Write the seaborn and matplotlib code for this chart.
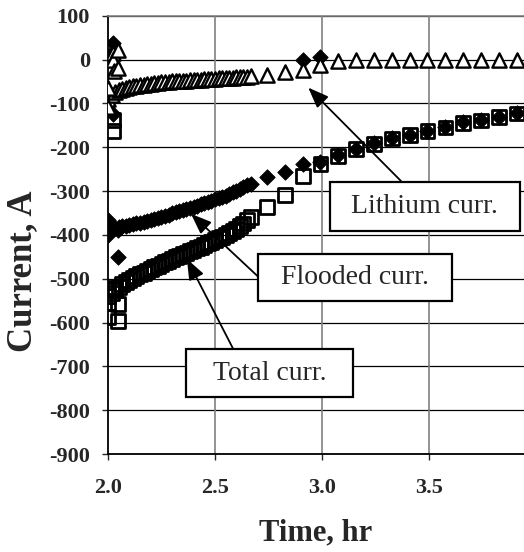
import matplotlib
matplotlib.use("Agg")
import matplotlib.pyplot as plt
from matplotlib.patches import Rectangle
import seaborn as sns
import pandas as pd

# ---------------- data ----------------
# dense logging (1-minute samples) from 2.0 h to ~2.67 h
time_dense = [2.000, 2.017, 2.033, 2.050, 2.067, 2.083, 2.100, 2.117, 2.133, 2.150,
              2.167, 2.183, 2.200, 2.217, 2.233, 2.250, 2.267, 2.283, 2.300, 2.317,
              2.333, 2.350, 2.367, 2.383, 2.400, 2.417, 2.433, 2.450, 2.467, 2.483,
              2.500, 2.517, 2.533, 2.550, 2.567, 2.583, 2.600, 2.617, 2.633, 2.650, 2.667]
lithium_dense = [-90, -80, -74, -70, -67, -65, -63, -61, -60, -58,
                 -57, -56, -55, -54, -53, -52, -52, -51, -50, -50,
                 -49, -48, -48, -47, -47, -46, -46, -45, -45, -44,
                 -44, -43, -43, -42, -42, -41, -40, -40, -39, -39, -38]
flooded_dense = [-378, -383, -384, -382, -380, -379, -377, -376, -374, -372,
                 -370, -368, -366, -364, -361, -359, -356, -354, -351, -348,
                 -346, -343, -341, -338, -336, -333, -330, -327, -324, -322,
                 -319, -316, -314, -311, -307, -303, -299, -295, -291, -287, -283]
total_dense = [-540, -532, -525, -518, -512, -507, -502, -498, -494, -490,
               -486, -482, -478, -474, -470, -466, -462, -459, -455, -451,
               -448, -444, -441, -437, -434, -430, -427, -423, -419, -416,
               -412, -408, -404, -400, -396, -391, -386, -380, -374, -367, -360]

# start-up transient readings
time_spike = [2.000, 2.000, 2.023, 2.023, 2.030, 2.047, 2.047]
lithium_spike = [-108, -65, 15, 0, -27, 22, -20]
flooded_spike = [-400, -365, -125, 38, 20, -450, -390]
total_spike = [-555, -588, -138, -164, -520, -557, -596]

# sparse logging (5-minute samples)
time_sparse = [2.743, 2.827, 2.910, 2.993, 3.077, 3.160, 3.243, 3.327,
               3.410, 3.493, 3.577, 3.660, 3.743, 3.827, 3.910]
lithium_sparse = [-36, -29, -23, -12, -3, -2, -2, -2, -2, -2, -2, -2, -2, -2, -2]
flooded_sparse = [-268, -256, -239, -233, -218, -203, -191, -178,
                  -171, -162, -153, -143, -137, -130, -121]
total_sparse = [-336, -309, -265, -239, -220, -205, -193, -180,
                -173, -164, -155, -145, -139, -132, -123]

# stray flooded readings
time_extra = [2.910, 2.993]
flooded_extra = [0, 5]

x_ticks = [2.0, 2.5, 3.0, 3.5]
x_ticklabels = ["2.0", "2.5", "3.0", "3.5"]
y_ticks = [100, 0, -100, -200, -300, -400, -500, -600, -700, -800, -900]
y_ticklabels = ["100", "0", "-100", "-200", "-300", "-400", "-500",
                "-600", "-700", "-800", "-900"]

df_total = pd.DataFrame({"time": time_dense + time_spike + time_sparse,
                         "current": total_dense + total_spike + total_sparse})
df_flooded = pd.DataFrame({"time": time_dense + time_spike + time_sparse + time_extra,
                           "current": flooded_dense + flooded_spike + flooded_sparse + flooded_extra})
df_lithium = pd.DataFrame({"time": time_dense + time_spike + time_sparse,
                           "current": lithium_dense + lithium_spike + lithium_sparse})

# ---------------- style ----------------
sns.set_style("white")
plt.rcParams["font.family"] = ["Liberation Serif", "DejaVu Serif"]
plt.rcParams["axes.unicode_minus"] = False

fig = plt.figure(figsize=(5.24, 5.52), dpi=100)
ax = fig.add_axes([0.206, 0.1775, 0.794, 0.794])

sns.scatterplot(data=df_total, x="time", y="current", ax=ax, marker="s",
                s=100, facecolor="none", edgecolor="black", linewidth=2.0, zorder=3)
sns.scatterplot(data=df_flooded, x="time", y="current", ax=ax, marker="D",
                s=62, color="black", edgecolor="black", linewidth=0.6, zorder=4)
sns.scatterplot(data=df_lithium, x="time", y="current", ax=ax, marker="^",
                s=105, facecolor="white", edgecolor="black", linewidth=1.7, zorder=5)

ax.set_xlim(2.0, 3.944)
ax.set_ylim(-900, 100)
ax.set_xticks(x_ticks)
ax.set_xticklabels(x_ticklabels)
ax.set_yticks(y_ticks)
ax.set_yticklabels(y_ticklabels)
for lab in ax.get_xticklabels() + ax.get_yticklabels():
    lab.set_fontweight("bold")
    lab.set_fontsize(16)

ax.tick_params(axis="x", direction="out", length=4, width=1, pad=13, bottom=True)
ax.tick_params(axis="y", direction="out", length=4, width=1, pad=9, left=True)

ax.grid(False)
for y in y_ticks:
    ax.axhline(y, color="black", lw=0.9, zorder=1)
for x in x_ticks[1:]:
    ax.axvline(x, color="#808080", lw=1.2, zorder=1)

ax.spines["left"].set_color("black")
ax.spines["left"].set_linewidth(1.3)
ax.spines["bottom"].set_color("black")
ax.spines["bottom"].set_linewidth(1.3)
ax.spines["top"].set_color("#808080")
ax.spines["top"].set_linewidth(1.2)
ax.spines["right"].set_visible(False)

ax.set_xlabel("Time, hr", fontsize=22, fontweight="bold", labelpad=15)
ax.set_ylabel("Current, A", fontsize=25, fontweight="bold")
ax.yaxis.set_label_coords(-0.165, 0.418)

# ---------------- callouts ----------------
def callout(text, x0, x1, y0, y1, start, tip):
    ax.annotate("", xy=tip, xytext=start,
                arrowprops=dict(arrowstyle="-|>,head_length=0.9,head_width=0.35",
                                mutation_scale=14, color="black", lw=1.3,
                                shrinkA=0, shrinkB=0),
                zorder=6)
    ax.add_patch(Rectangle((x0, y0), x1 - x0, y1 - y0, facecolor="white",
                           edgecolor="black", lw=1.6, zorder=7))
    ax.text((x0 + x1) / 2, (y0 + y1) / 2, text, ha="center", va="center",
            fontsize=20, zorder=8)

callout("Lithium curr.", 3.037, 3.925, -391, -279, (3.369, -277), (2.936, -64))
callout("Flooded curr.", 2.701, 3.607, -550, -443, (2.701, -495), (2.388, -352))
callout("Total curr.", 2.364, 3.145, -770, -661, (2.584, -659), (2.369, -455))

fig.savefig("out.png", dpi=100)
